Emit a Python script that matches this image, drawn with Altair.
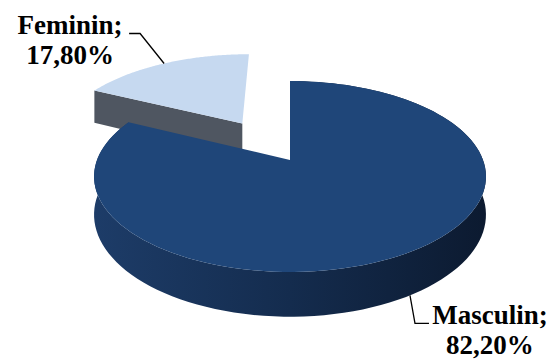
import numpy as np
import pandas as pd
import altair as alt

# ---- data ----
categories = ["Masculin", "Feminin"]
values = [82.2, 17.8]
explode = [0.0, 0.5]
top_colors = ["#1f4679", "#c6d9f0"]
side_colors = ["#1c3a64", "#4f5661"]

# ---- 3D perspective pie geometry (style parameters) ----
CX, CY = 290.0, 160.0   # pie centre on screen
A, B = 193.0, 92.6      # horizontal / vertical radii
C = 0.173               # perspective strength
H = 37.0                # thickness
N = 120


def proj(u, v, z):
    w = 1.0 - C * v
    return CX + A * u / w, CY + (B * v + H * z) / w


def poly(points):
    xs, ys = zip(*points)
    return pd.DataFrame({"x": xs, "y": ys, "o": np.arange(len(xs))})


total = sum(values)
angles = []
start = 0.0
for val in values:
    end = start + 360.0 * val / total
    angles.append((start, end))
    start = end


def slice_parts(k):
    a0, a1 = angles[k]
    mid = np.radians((a0 + a1) / 2)
    du, dv = explode[k] * np.sin(mid), -explode[k] * np.cos(mid)
    phis = np.radians(np.linspace(a0, a1, N))
    us = np.sin(phis) + du
    vs = -np.cos(phis) + dv
    top = [proj(du, dv, 0)] + [proj(u, v, 0) for u, v in zip(us, vs)]
    wall = [proj(u, v, 0) for u, v in zip(us, vs)] + \
           [proj(u, v, 1) for u, v in zip(us[::-1], vs[::-1])]
    # radial face at the start edge of the slice
    u0, v0 = np.sin(phis[0]) + du, -np.cos(phis[0]) + dv
    face0 = [proj(du, dv, 0), proj(u0, v0, 0), proj(u0, v0, 1), proj(du, dv, 1)]
    anchor_top = proj(np.sin(mid) + du, -np.cos(mid) + dv, 0)
    anchor_bot = proj(np.sin(mid) + du, -np.cos(mid) + dv, 1)
    return top, wall, face0, anchor_top, anchor_bot


enc = dict(
    x=alt.X("x:Q", scale=alt.Scale(domain=[0, 554], nice=False, zero=False), axis=None),
    y=alt.Y("y:Q", scale=alt.Scale(domain=[0, 360], nice=False, zero=False, reverse=True), axis=None),
    order=alt.Order("o:Q"),
)


def filled(df, fill):
    return alt.Chart(df).mark_line(fill=fill, strokeWidth=0, interpolate="linear").encode(**enc)


m_top, m_wall, m_face, m_at, m_ab = slice_parts(0)
f_top, f_wall, f_face, f_at, f_ab = slice_parts(1)

wall_grad = alt.Gradient(
    gradient="linear",
    stops=[alt.GradientStop(color="#1d3c68", offset=0),
           alt.GradientStop(color="#142c4e", offset=0.5),
           alt.GradientStop(color="#0c1a30", offset=1)],
    x1=0, x2=1, y1=0, y2=0,
)

layers = [
    filled(poly(f_face), side_colors[1]),
    filled(poly(f_top), top_colors[1]),
    filled(poly(m_wall), wall_grad),
    filled(poly(m_top), top_colors[0]),
]

# ---- leader lines and labels ----
def fmt(v):
    return f"{v:.2f}".replace(".", ",") + "%"

fx, fy = f_at
fem_line = poly([(fx, fy), (fx - 24, fy - 30), (fx - 35, fy - 30)])
mx, my = m_ab
mas_line = poly([(mx, my), (mx + 5, my + 28), (mx + 19, my + 28)])
for d in (fem_line, mas_line):
    layers.append(alt.Chart(d).mark_line(color="black", strokeWidth=1.3).encode(**enc))

text_df = pd.DataFrame({
    "x": [fx - 94, fx - 94, mx + 80, mx + 80],
    "y": [fy - 29, fy + 1, my + 29, my + 59],
    "t": [categories[1] + ";", fmt(values[1]), categories[0] + ";", fmt(values[0])],
})
layers.append(
    alt.Chart(text_df).mark_text(font="Liberation Serif", fontWeight="bold", fontSize=27,
                                 align="center", baseline="alphabetic", color="black")
    .encode(x=enc["x"], y=enc["y"], text="t:N")
)

chart = alt.layer(*layers).properties(
    width=554, height=360, padding=0, autosize="none"
).configure_view(stroke=None)

chart.save("out.html", embed_options={"renderer": "svg", "actions": False})
